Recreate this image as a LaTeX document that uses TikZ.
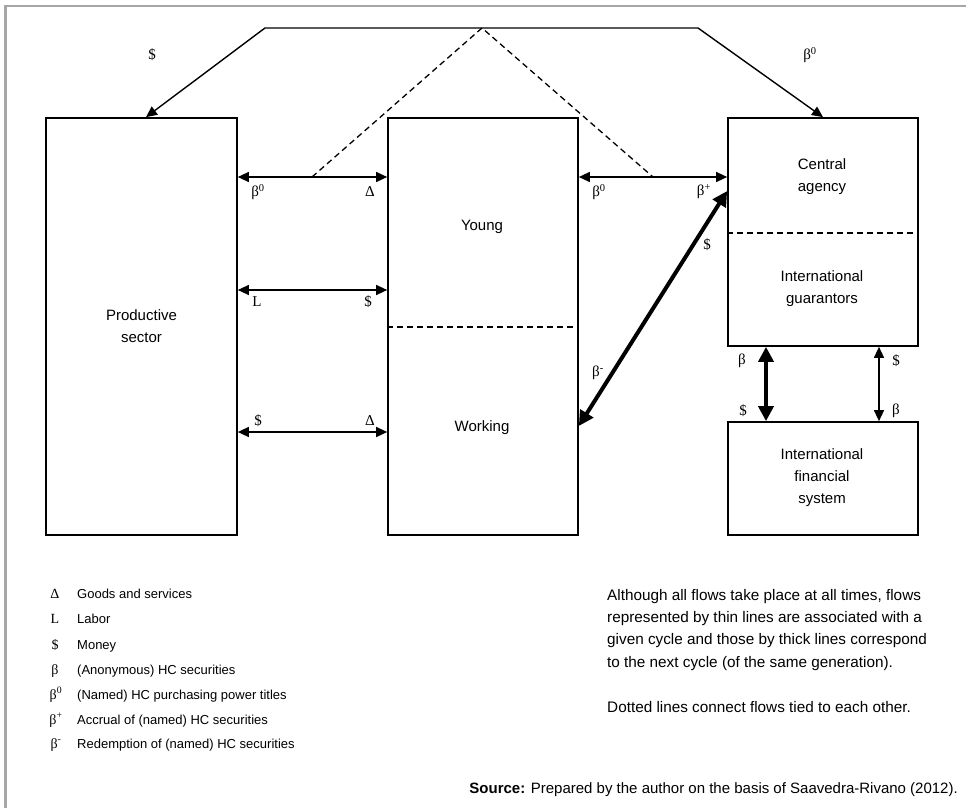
\documentclass[tikz,border=0pt]{standalone}
\usepackage{fontspec}
\setmainfont{Liberation Sans}
\newfontfamily\tms{Liberation Serif}
\usetikzlibrary{arrows.meta}
\definecolor{frm}{HTML}{A6A6A6}
\begin{document}
\begin{tikzpicture}[x=1pt,y=-1pt,
  box/.style={draw, line width=1.7pt, inner sep=0pt},
  lbl/.style={font=\fontsize{15}{22}\selectfont, align=center, inner sep=0pt},
  sym/.style={font=\tms\fontsize{15}{18}\selectfont, inner sep=0pt},
  thinarr/.style={line width=1.4pt, {Triangle[length=11pt,width=10pt]}-{Triangle[length=11pt,width=10pt]}},
  thickarr/.style={line width=4pt, {Triangle[length=15pt,width=15pt]}-{Triangle[length=15pt,width=15pt]}},
  dsh/.style={line width=1.3pt, dash pattern=on 6pt off 4pt},
  leg/.style={font=\fontsize{13}{15}\selectfont, inner sep=0pt, anchor=base west},
  legsym/.style={font=\tms\fontsize{14}{16}\selectfont, inner sep=0pt, anchor=base},
  note/.style={font=\fontsize{15.3}{18}\selectfont, inner sep=0pt, anchor=base west},
]
\fill[white] (0,0) rectangle (966,808);
\useasboundingbox (0,0) rectangle (966,808);
% frame
\draw[frm, line width=2.7pt] (5.3,810) -- (5.3,6) -- (968,6);

% boxes
\node[box, minimum width=191pt, minimum height=417pt] (ps) at (141.5,326.5) {};
\node[lbl] (pstext) at (141.5,326.5) {Productive\\sector};
\node[box, minimum width=190pt, minimum height=417pt] (mid) at (483,326.5) {};
\draw[dsh] (mid.west |- 0,327) -- (mid.east |- 0,327);
\node[lbl] (young) at (482,227) {Young};
\node[lbl] (working) at (482,428) {Working};
\node[box, minimum width=190pt, minimum height=228pt] (ca) at (823,232) {};
\draw[dsh] (ca.west |- 0,233) -- (ca.east |- 0,233);
\node[lbl] (catext) at (822,177) {Central\\agency};
\node[lbl] (igtext) at (822,289) {International\\guarantors};
\node[box, minimum width=190pt, minimum height=113pt] (ifs) at (823,478.5) {};
\node[lbl] (ifstext) at (822,478) {International\\financial\\system};

% top connector
\coordinate (tl) at (265,28);
\coordinate (tr) at (698,28);
\coordinate (apex) at (482,28);
\coordinate (d1) at (312,177);
\coordinate (d2) at (653,177);
\draw[thinarr] ([xshift=4.5pt]ps.north) -- (tl) -- (tr) -- (ca.north);
\draw[dsh] (d1) -- (apex) -- (d2);
\node[sym] (lt) at (152,55) {\$};
\node[sym] (rt) at (810,55) {β\textsuperscript{0}};

% horizontal arrows PS <-> Mid
\draw[thinarr] (ps.east |- 0,177) -- (mid.west |- 0,177);
\node[sym] at (258,192) {β\textsuperscript{0}};
\node[sym] at (370,192) {Δ};
\draw[thinarr] (ps.east |- 0,290) -- (mid.west |- 0,290);
\node[sym] at (257,302) {L};
\node[sym] at (368,302) {\$};
\draw[thinarr] (ps.east |- 0,432) -- (mid.west |- 0,432);
\node[sym] at (258,421) {\$};
\node[sym] at (370,421) {Δ};

% Mid <-> CA
\draw[thinarr] (mid.east |- 0,177) -- (ca.west |- 0,177);
\node[sym] at (599,192) {β\textsuperscript{0}};
\node[sym] at (704,192) {β\textsuperscript{+}};
\draw[thickarr] (mid.east |- 0,426) -- (ca.west |- 0,191);
\node[sym] at (707,245) {\$};
\node[sym] at (598,373) {β\textsuperscript{-}};

% CA <-> IFS
\draw[thickarr] (ca.south -| 766,0) -- (ifs.north -| 766,0);
\node[sym] at (742,361) {β};
\node[sym] at (743,411) {\$};
\draw[thinarr] (ca.south -| 879,0) -- (ifs.north -| 879,0);
\node[sym] at (896,361) {\$};
\node[sym] at (896,411) {β};

% legend
\node[legsym] at (55,598) {Δ};   \node[leg] at (77,598) {Goods and services};
\node[legsym] at (55,623) {L};   \node[leg] at (77,623) {Labor};
\node[legsym] at (55,649) {\$};  \node[leg] at (77,649) {Money};
\node[legsym] at (55,674) {β};   \node[leg] at (77,674) {(Anonymous) HC securities};
\node[legsym] at (56,699) {β\textsuperscript{0}}; \node[leg] at (77,699) {(Named) HC purchasing power titles};
\node[legsym] at (56,724) {β\textsuperscript{+}}; \node[leg] at (77,724) {Accrual of (named) HC securities};
\node[legsym] at (56,748) {β\textsuperscript{-}}; \node[leg] at (77,748) {Redemption of (named) HC securities};

% notes
\node[note] at (607,600) {Although all flows take place at all times, flows};
\node[note] at (607,622) {represented by thin lines are associated with a};
\node[note] at (607,644) {given cycle and those by thick lines correspond};
\node[note] at (607,667) {to the next cycle (of the same generation).};
\node[note] at (607,712) {Dotted lines connect flows tied to each other.};

% source
\node[font=\fontsize{15}{18}\selectfont, inner sep=0pt, anchor=base east] at (958,793) {\textbf{Source:} Prepared by the author on the basis of Saavedra-Rivano (2012).};
\end{tikzpicture}
\end{document}
